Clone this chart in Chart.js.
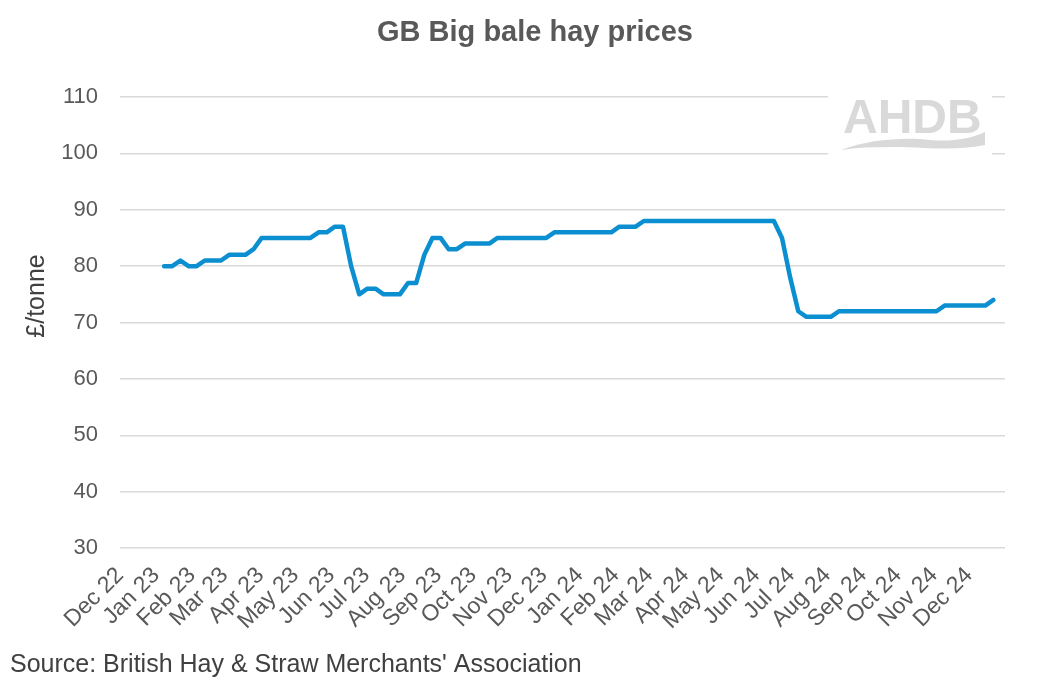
<!DOCTYPE html>
<html>
<head>
<meta charset="utf-8">
<title>GB Big bale hay prices</title>
<script src="https://cdn.jsdelivr.net/npm/chart.js@4.4.1/dist/chart.umd.min.js"></script>
<style>
    html, body { margin: 0; padding: 0; background: #fff; }
    #wrap { width: 1062px; height: 685px; }
</style>
</head>
<body>
<div id="wrap"><canvas id="hayChart" width="1062" height="685"></canvas></div>
<script>
// month tick labels, axis runs Dec 22 -> Jan 25
const monthLabels = ['Dec 22', 'Jan 23', 'Feb 23', 'Mar 23', 'Apr 23', 'May 23', 'Jun 23', 'Jul 23', 'Aug 23',
    'Sep 23', 'Oct 23', 'Nov 23', 'Dec 23', 'Jan 24', 'Feb 24', 'Mar 24', 'Apr 24', 'May 24', 'Jun 24',
    'Jul 24', 'Aug 24', 'Sep 24', 'Oct 24', 'Nov 24', 'Dec 24'];

// weekly prices (£/tonne), first week below
const firstWeek = '2023-01-08';
const hayPrices = [
    80, 80, 81, 80, 80, 81, 81, 81, 82, 82, 82, 83,
    85, 85, 85, 85, 85, 85, 85,
    86, 86, 87, 87,
    80, 75, 76, 76, 75, 75, 75, 77, 77, 82,
    85, 85, 83, 83,
    84, 84, 84, 84,
    85, 85, 85, 85, 85, 85, 85,
    86, 86, 86, 86, 86, 86, 86, 86,
    87, 87, 87,
    88, 88, 88, 88, 88, 88, 88, 88, 88, 88, 88, 88, 88, 88, 88, 88, 88,
    85, 78, 72,
    71, 71, 71, 71,
    72, 72, 72, 72, 72, 72, 72, 72, 72, 72, 72, 72, 72,
    73, 73, 73, 73, 73, 73,
    74
];

const yTicks = [30, 40, 50, 60, 70, 80, 90, 100, 110];

const MS_DAY = 86400000;
const AXIS_START = Date.UTC(2022, 11, 1);
const AXIS_END = Date.UTC(2025, 0, 1);

function dayOf(ms) {
    return Math.round((ms - AXIS_START) / MS_DAY);
}

const monthTicks = monthLabels.map((lbl, i) => dayOf(Date.UTC(2022, 11 + i, 1)));
const weekStart = dayOf(Date.parse(firstWeek + 'T00:00:00Z'));
const points = hayPrices.map((v, i) => ({ x: weekStart + 7 * i, y: v }));

const FONT = "'Liberation Sans', Arial, sans-serif";

// title centred on the page and the rotated y axis title
const textPlugin = {
    id: 'pageText',
    afterDraw(chart) {
        const { ctx, chartArea } = chart;
        ctx.save();
        ctx.fillStyle = '#595959';
        ctx.font = 'bold 29px ' + FONT;
        ctx.textAlign = 'center';
        ctx.textBaseline = 'middle';
        ctx.fillText('GB Big bale hay prices', 535, 33);

        ctx.translate(37, chartArea.top + 199);
        ctx.rotate(-Math.PI / 2);
        ctx.fillStyle = '#404040';
        ctx.font = '25px ' + FONT;
        ctx.fillText('£/tonne', 0, 0);
        ctx.restore();
    }
};

// grey AHDB logo over the top right of the plot
const logoPlugin = {
    id: 'ahdbLogo',
    beforeDatasetsDraw(chart) {
        const { ctx, chartArea } = chart;
        const r = chartArea.right;
        const t = chartArea.top;
        ctx.save();
        ctx.fillStyle = '#ffffff';
        ctx.fillRect(r - 177, t - 12, 164, 80);
        ctx.fillStyle = '#d9d9d9';
        ctx.font = 'bold 48px ' + FONT;
        ctx.textAlign = 'left';
        ctx.textBaseline = 'alphabetic';
        ctx.fillText('AHDB', r - 162, t + 36);
        ctx.beginPath();
        ctx.moveTo(r - 164, t + 53);
        ctx.bezierCurveTo(r - 135, t + 42, r - 100, t + 40, r - 75, t + 43);
        ctx.bezierCurveTo(r - 55, t + 45, r - 35, t + 42, r - 20, t + 35);
        ctx.lineTo(r - 20, t + 48);
        ctx.bezierCurveTo(r - 40, t + 52, r - 60, t + 52, r - 80, t + 51);
        ctx.bezierCurveTo(r - 105, t + 50, r - 135, t + 49, r - 164, t + 53);
        ctx.closePath();
        ctx.fill();
        ctx.restore();
    }
};

new Chart(document.getElementById('hayChart'), {
    type: 'line',
    data: {
        datasets: [{
            label: 'GB Big bale hay',
            data: points,
            borderColor: '#0b8fd0',
            borderWidth: 4.5,
            borderJoinStyle: 'round',
            borderCapStyle: 'round',
            pointRadius: 0,
            tension: 0,
            fill: false,
        }]
    },
    options: {
        responsive: false,
        animation: false,
        layout: { padding: { left: 10, right: 57, top: 97, bottom: 0 } },
        plugins: {
            legend: { display: false },
            tooltip: { enabled: false },
            title: { display: false },
            subtitle: {
                display: true,
                position: 'bottom',
                align: 'start',
                text: "Source: British Hay & Straw Merchants' Association",
                color: '#404040',
                font: { family: FONT, size: 25 },
                padding: { top: 0, bottom: 5 },
            }
        },
        scales: {
            x: {
                type: 'linear',
                min: 0,
                max: dayOf(AXIS_END),
                grid: { display: false },
                border: { display: false },
                afterBuildTicks: (scale) => {
                    scale.ticks = monthTicks.map(v => ({ value: v }));
                },
                afterFit: (scale) => { scale.height = 102; },
                ticks: {
                    autoSkip: false,
                    maxRotation: 45,
                    minRotation: 45,
                    padding: 6,
                    color: '#595959',
                    font: { family: FONT, size: 23 },
                    callback: (value, index) => monthLabels[index],
                }
            },
            y: {
                min: 30,
                max: 110,
                afterBuildTicks: (scale) => {
                    scale.ticks = yTicks.map(v => ({ value: v }));
                },
                afterFit: (scale) => { scale.width = 110; },
                grid: { color: '#d9d9d9', lineWidth: 1.5, drawTicks: false },
                border: { display: false },
                ticks: {
                    padding: 22,
                    color: '#595959',
                    font: { family: FONT, size: 22 },
                }
            }
        }
    },
    plugins: [logoPlugin, textPlugin]
});
</script>
</body>
</html>
